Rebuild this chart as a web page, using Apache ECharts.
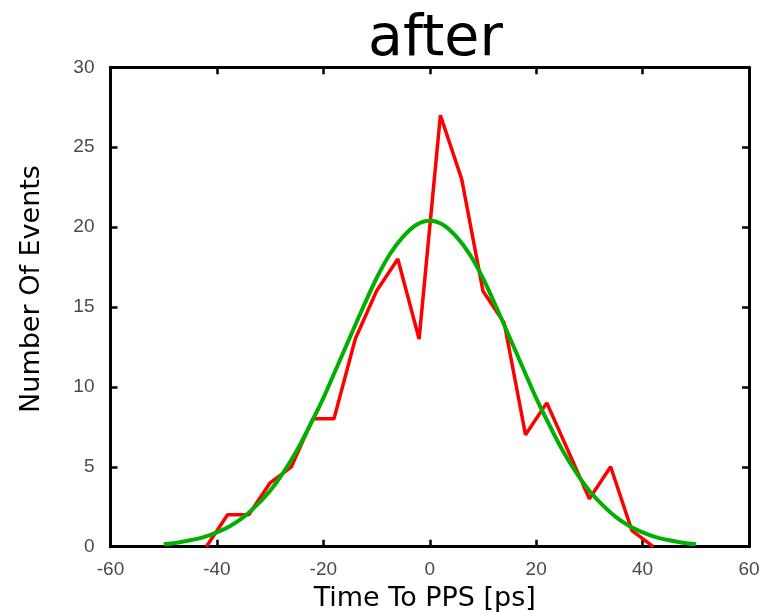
<!DOCTYPE html>
<html>
<head>
<meta charset="utf-8">
<script src="https://cdn.jsdelivr.net/npm/echarts@6/dist/echarts.min.js"></script>
<style>html,body{margin:0;padding:0;background:#fff;}#c{width:763px;height:612px;}</style>
</head>
<body>
<div id="c"></div>
<script>
// Measured histogram (bin centres, ps) and counts
const binCenters = [-42,-38,-34,-30,-26,-22,-18,-14,-10,-6,-2,2,6,10,14,18,22,26,30,34,38,42];
const counts     = [0,2,2,4,5,8,8,13,16,18,13,27,23,16,14,7,9,6,3,5,1,0];
// Fitted curve
const fitX = [-50,-47.5,-45,-42.5,-40,-37.5,-35,-32.5,-30,-27.5,-25,-22.5,-20,-17.5,-15,-12.5,-10,-7.5,-5,-2.5,0,
              2.5,5,7.5,10,12.5,15,17.5,20,22.5,25,27.5,30,32.5,35,37.5,40,42.5,45,47.5,50];
const fitY = [0.15,0.25,0.4,0.6,0.9,1.3,1.85,2.6,3.5,4.65,6.0,7.6,9.3,11.2,13.1,15.0,16.8,18.3,19.4,20.15,20.4,
              20.15,19.4,18.3,16.8,15.0,13.1,11.2,9.3,7.6,6.0,4.65,3.5,2.6,1.85,1.3,0.9,0.6,0.4,0.25,0.15];
const xTicks = {min:-60, max:60, interval:20};
const yTicks = {min:0, max:30, interval:5};

const chart = echarts.init(document.getElementById('c'), null, {renderer:'canvas'});
const lineStyleAxis = {color:'#000', width:3};
const tickStyle = {show:true, inside:true, length:7, lineStyle:{color:'#000', width:2.5}};
const labelStyle = {color:'#4a4a4a', fontSize:19, fontFamily:'Liberation Sans'};
chart.setOption({
  backgroundColor:'#fff',
  animation:false,
  title:{text:'after', left:368, top:12, padding:0,
    textStyle:{fontSize:57, fontWeight:'normal', fontFamily:'DejaVu Sans', color:'#000'}},
  grid:{left:110.5, right:14, top:67.3, bottom:65.3, containLabel:false, outerBoundsMode:'none'},
  xAxis:[
    {type:'value', position:'bottom', min:xTicks.min, max:xTicks.max, interval:xTicks.interval,
     axisLine:{show:true, onZero:false, lineStyle:lineStyleAxis}, axisTick:tickStyle,
     axisLabel:Object.assign({margin:14}, labelStyle), splitLine:{show:false},
     name:'Time To PPS [ps]', nameLocation:'middle', nameGap:39,
     nameTextStyle:{fontSize:27, fontFamily:'DejaVu Sans', color:'#000', padding:[0,10,0,0]}},
    {type:'value', position:'top', min:xTicks.min, max:xTicks.max, interval:xTicks.interval,
     axisLine:{show:true, onZero:false, lineStyle:lineStyleAxis}, axisTick:tickStyle,
     axisLabel:{show:false}, splitLine:{show:false}}
  ],
  yAxis:[
    {type:'value', position:'left', min:yTicks.min, max:yTicks.max, interval:yTicks.interval,
     axisLine:{show:true, onZero:false, lineStyle:lineStyleAxis}, axisTick:tickStyle,
     axisLabel:Object.assign({margin:16}, labelStyle), splitLine:{show:false},
     name:'Number Of Events', nameLocation:'middle', nameGap:65,
     nameTextStyle:{fontSize:27, fontFamily:'DejaVu Sans', color:'#000', padding:[0,0,0,36]}},
    {type:'value', position:'right', min:yTicks.min, max:yTicks.max, interval:yTicks.interval,
     axisLine:{show:true, onZero:false, lineStyle:lineStyleAxis}, axisTick:tickStyle,
     axisLabel:{show:false}, splitLine:{show:false}}
  ],
  series:[
    {type:'line', xAxisIndex:0, yAxisIndex:0, data:binCenters.map((x,i)=>[x,counts[i]]),
     showSymbol:false, symbol:'none', lineStyle:{color:'#ff0000', width:3.5}, clip:true, z:2},
    {type:'line', xAxisIndex:0, yAxisIndex:0, data:fitX.map((x,i)=>[x,fitY[i]]),
     showSymbol:false, symbol:'none', smooth:0.3, lineStyle:{color:'#00b000', width:4}, clip:true, z:3}
  ]
});
</script>
</body>
</html>
